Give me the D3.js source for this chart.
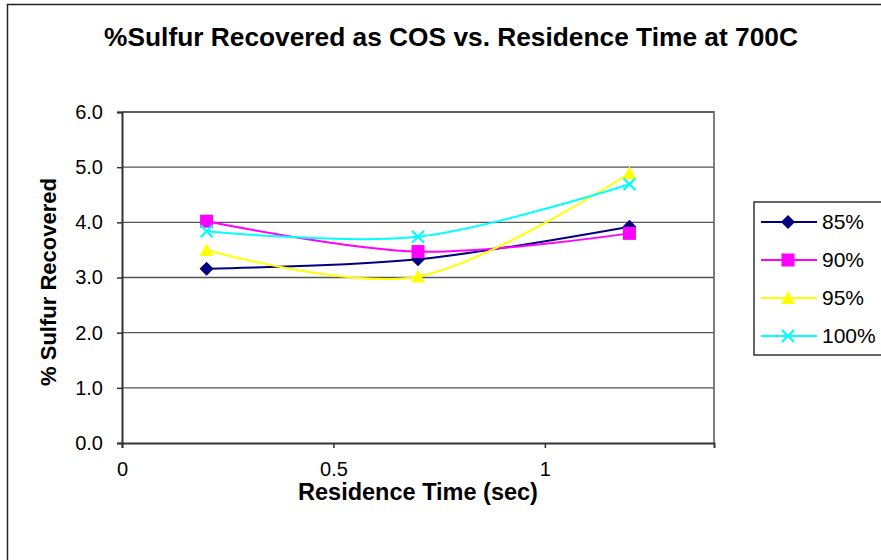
<!DOCTYPE html>
<html>
<head>
<meta charset="utf-8">
<script src="https://cdn.jsdelivr.net/npm/d3@7"></script>
<style>
  body { margin: 0; background: #fff; }
  svg { display: block; font-family: "Liberation Sans", Arial, sans-serif; }
</style>
</head>
<body>
<div class="chart"></div>
<script>
var times = [0.2, 0.7, 1.2];
var seriesNames = ['85%', '90%', '95%', '100%'];
var values85 = [3.16, 3.33, 3.92];
var values90 = [4.02, 3.47, 3.80];
var values95 = [3.50, 3.02, 4.89];
var values100 = [3.84, 3.74, 4.69];
var xTicks = [0, 0.5, 1];
var yTicks = [0, 1, 2, 3, 4, 5, 6];
var colors = ['#000080', '#ff00ff', '#ffff00', '#00ffff'];
var symbols = ['diamond', 'square', 'triangle', 'cross'];

var allValues = [values85, values90, values95, values100];
var series = seriesNames.map(function (n, i) {
	return {
		name: n, color: colors[i], symbol: symbols[i],
		points: times.map(function (t, j) { return [t, allValues[i][j]]; })
	};
});

var W = 881, H = 560;
var pLeft = 122, pRight = 714, pTop = 112, pBottom = 443;

var svg = d3.select('.chart')
	.append('svg')
	.attr('width', W)
	.attr('height', H);

// chart border
svg.append('rect')
	.attr('x', 7.5).attr('y', 4.5)
	.attr('width', W).attr('height', H)
	.style('fill', '#fff').style('stroke', '#222').style('stroke-width', 1.5);

var x = d3.scaleLinear().domain([0, 1.4]).range([pLeft, pRight]);
var y = d3.scaleLinear().domain([0, 6]).range([pBottom, pTop]);

// plot area frame (top / right)
svg.append('path')
	.attr('d', 'M' + pLeft + ',' + pTop + 'H' + pRight + 'V' + pBottom)
	.style('fill', 'none').style('stroke', '#808080').style('stroke-width', 2);

// gridlines
svg.append('g')
	.selectAll('line')
	.data(yTicks.slice(1))
	.enter()
	.append('line')
	.attr('x1', pLeft).attr('x2', pRight)
	.attr('y1', function (d) { return y(d); })
	.attr('y2', function (d) { return y(d); })
	.style('stroke', '#555').style('stroke-width', 1.3);

var yAxis = svg.append('g')
	.attr('transform', 'translate(' + pLeft + ',0)')
	.call(d3.axisLeft(y).tickValues(yTicks).tickSize(5).tickPadding(14)
		.tickFormat(d3.format('.1f')));
var xAxis = svg.append('g')
	.attr('transform', 'translate(0,' + pBottom + ')')
	.call(d3.axisBottom(x).tickValues(xTicks).tickSize(5).tickPadding(14)
		.tickFormat(function (d) { return d; }));

[xAxis, yAxis].forEach(function (a) {
	a.select('.domain').style('stroke', '#333').style('stroke-width', 2);
	a.selectAll('.tick line').style('stroke', '#333').style('stroke-width', 1.5);
	a.selectAll('text')
		.style('font-family', '"Liberation Sans", Arial, sans-serif')
		.style('font-size', '20px')
		.style('fill', '#000');
});

// lines
var line = d3.line()
	.x(function (d) { return x(d[0]); })
	.y(function (d) { return y(d[1]); })
	.curve(d3.curveCatmullRom.alpha(0));

svg.append('g')
	.selectAll('path')
	.data(series)
	.enter()
	.append('path')
	.attr('d', function (s) { return line(s.points); })
	.style('fill', 'none')
	.style('stroke', function (s) { return s.color; })
	.style('stroke-width', 2);

function marker(g, sym, color) {
	if (sym === 'diamond') {
		g.append('path').attr('d', 'M0,-7L7,0L0,7L-7,0Z').style('fill', color);
	} else if (sym === 'square') {
		g.append('rect').attr('x', -6.5).attr('y', -6.5).attr('width', 13).attr('height', 13).style('fill', color);
	} else if (sym === 'triangle') {
		g.append('path').attr('d', 'M0,-7L7,6L-7,6Z').style('fill', color);
	} else {
		g.append('path').attr('d', 'M-6,-6L6,6M-6,6L6,-6')
			.style('stroke', color).style('stroke-width', 2.2).style('fill', 'none');
	}
}

series.forEach(function (s) {
	svg.append('g')
		.selectAll('g')
		.data(s.points)
		.enter()
		.append('g')
		.attr('transform', function (d) { return 'translate(' + x(d[0]) + ',' + y(d[1]) + ')'; })
		.each(function () { marker(d3.select(this), s.symbol, s.color); });
});

// title and axis labels
svg.append('text')
	.attr('x', 451).attr('y', 46)
	.style('text-anchor', 'middle')
	.style('font-weight', 'bold').style('font-size', '26.3px')
	.text('%Sulfur Recovered as COS vs. Residence Time at 700C');

svg.append('text')
	.attr('x', 418).attr('y', 500)
	.style('text-anchor', 'middle')
	.style('font-weight', 'bold').style('font-size', '23.5px')
	.text('Residence Time (sec)');

svg.append('text')
	.attr('transform', 'translate(56,282) rotate(-90)')
	.style('text-anchor', 'middle')
	.style('font-weight', 'bold').style('font-size', '22px')
	.text('% Sulfur Recovered');

// legend
var legend = svg.append('g');
legend.append('rect')
	.attr('x', 754).attr('y', 202)
	.attr('width', 140).attr('height', 153)
	.style('fill', '#fff').style('stroke', '#333').style('stroke-width', 1.5);

var rows = legend.selectAll('g.row')
	.data(series)
	.enter()
	.append('g')
	.attr('class', 'row')
	.attr('transform', function (d, i) { return 'translate(0,' + (222 + i * 38) + ')'; });

rows.append('line')
	.attr('x1', 761).attr('x2', 817)
	.style('stroke', function (s) { return s.color; })
	.style('stroke-width', 2);
rows.append('g')
	.attr('transform', 'translate(788,0)')
	.each(function (s) { marker(d3.select(this), s.symbol, s.color); });
rows.append('text')
	.attr('x', 822).attr('y', 7)
	.style('font-size', '21px')
	.text(function (s) { return s.name; });
</script>
</body>
</html>
